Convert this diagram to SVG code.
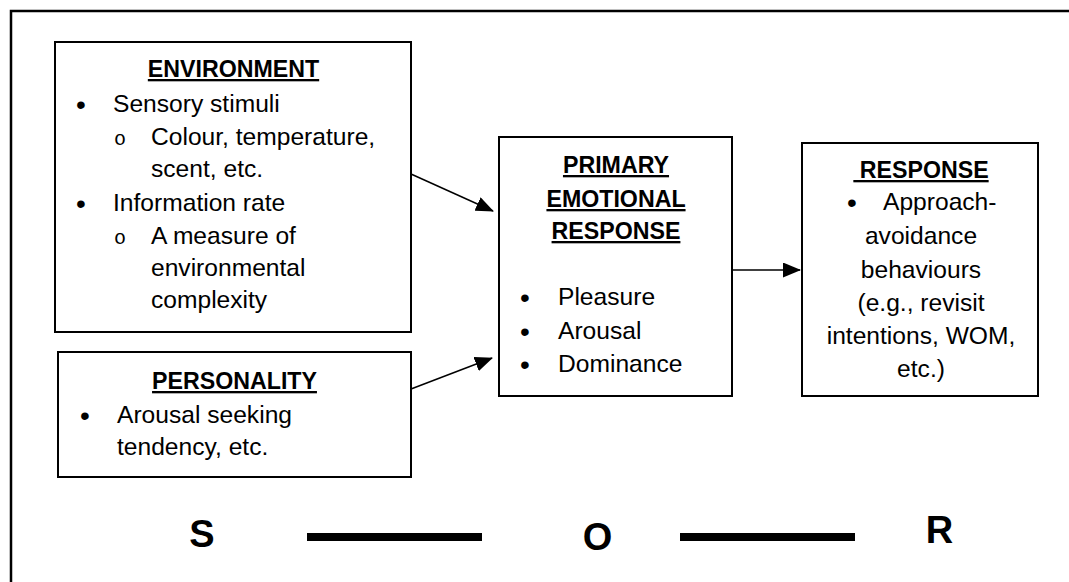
<svg xmlns="http://www.w3.org/2000/svg" width="1069" height="582" viewBox="0 0 1069 582">
<style>
text{font-family:"Liberation Sans",Arial,sans-serif;fill:#000}
.t{font-size:24.6px}
.b{font-size:28px}
.h{font-size:23.2px;font-weight:bold;text-decoration:underline;text-anchor:middle}
.c{text-anchor:middle}
.o{font-family:"Liberation Mono","Courier New",monospace;font-size:20px}
.big{font-size:38px;font-weight:bold;text-anchor:middle}
.box{fill:#fff;stroke:#000;stroke-width:2}
.conn{stroke:#000;stroke-width:1.5;fill:none}
</style>
<defs>
<marker id="ah" markerUnits="userSpaceOnUse" markerWidth="18" markerHeight="15" refX="17" refY="7.5" orient="auto">
<path d="M0,0 L18,7.5 L0,15 Z" fill="#000"/>
</marker>
</defs>
<rect width="1069" height="582" fill="#fff"/>
<g id="frame">
<path d="M11,582 V11 H1069" fill="none" stroke="#000" stroke-width="2.5"/>
</g>
<g id="environment">
<rect class="box" x="55" y="42" width="356" height="290"/>
<text class="h" x="233.5" y="77">ENVIRONMENT</text>
<text class="b" x="76" y="114">•</text>
<text class="t" x="113" y="112">Sensory stimuli</text>
<text class="o" x="114" y="145">o</text>
<text class="t" x="151" y="145">Colour, temperature,</text>
<text class="t" x="151" y="177">scent, etc.</text>
<text class="b" x="76" y="213">•</text>
<text class="t" x="113" y="211">Information rate</text>
<text class="o" x="114" y="244">o</text>
<text class="t" x="151" y="244">A measure of</text>
<text class="t" x="151" y="276">environmental</text>
<text class="t" x="151" y="308">complexity</text>
</g>
<g id="personality">
<rect class="box" x="58" y="352" width="353" height="125"/>
<text class="h" x="234.5" y="389">PERSONALITY</text>
<text class="b" x="80" y="425">•</text>
<text class="t" x="117" y="423">Arousal seeking</text>
<text class="t" x="117" y="455">tendency, etc.</text>
</g>
<g id="primary">
<rect class="box" x="499" y="137" width="233" height="259"/>
<text class="h" x="616" y="173">PRIMARY</text>
<text class="h" x="616" y="207">EMOTIONAL</text>
<text class="h" x="616" y="239">RESPONSE</text>
<text class="b" x="520" y="307">•</text>
<text class="t" x="558" y="305">Pleasure</text>
<text class="b" x="520" y="341">•</text>
<text class="t" x="558" y="339">Arousal</text>
<text class="b" x="520" y="374">•</text>
<text class="t" x="558" y="372">Dominance</text>
</g>
<g id="response">
<rect class="box" x="802" y="143" width="236" height="253"/>
<text class="h" x="921" y="178" xml:space="preserve"> RESPONSE</text>
<text class="b" x="847" y="212">•</text>
<text class="t" x="883" y="210">Approach-</text>
<text class="t c" x="921" y="244">avoidance</text>
<text class="t c" x="921" y="278">behaviours</text>
<text class="t c" x="921" y="311">(e.g., revisit</text>
<text class="t c" x="921" y="344">intentions, WOM,</text>
<text class="t c" x="921" y="377">etc.)</text>
</g>
<g id="connectors">
<line class="conn" x1="411" y1="174" x2="493" y2="211" marker-end="url(#ah)"/>
<line class="conn" x1="411" y1="389" x2="492" y2="358" marker-end="url(#ah)"/>
<line class="conn" x1="732" y1="270" x2="800" y2="270" marker-end="url(#ah)"/>
</g>
<g id="sor">
<text class="big" x="202" y="547">S</text>
<rect x="307" y="533" width="175" height="8" fill="#000"/>
<text class="big" x="597.5" y="550">O</text>
<rect x="680" y="533" width="175" height="8" fill="#000"/>
<text class="big" x="939.5" y="543">R</text>
</g>
</svg>
